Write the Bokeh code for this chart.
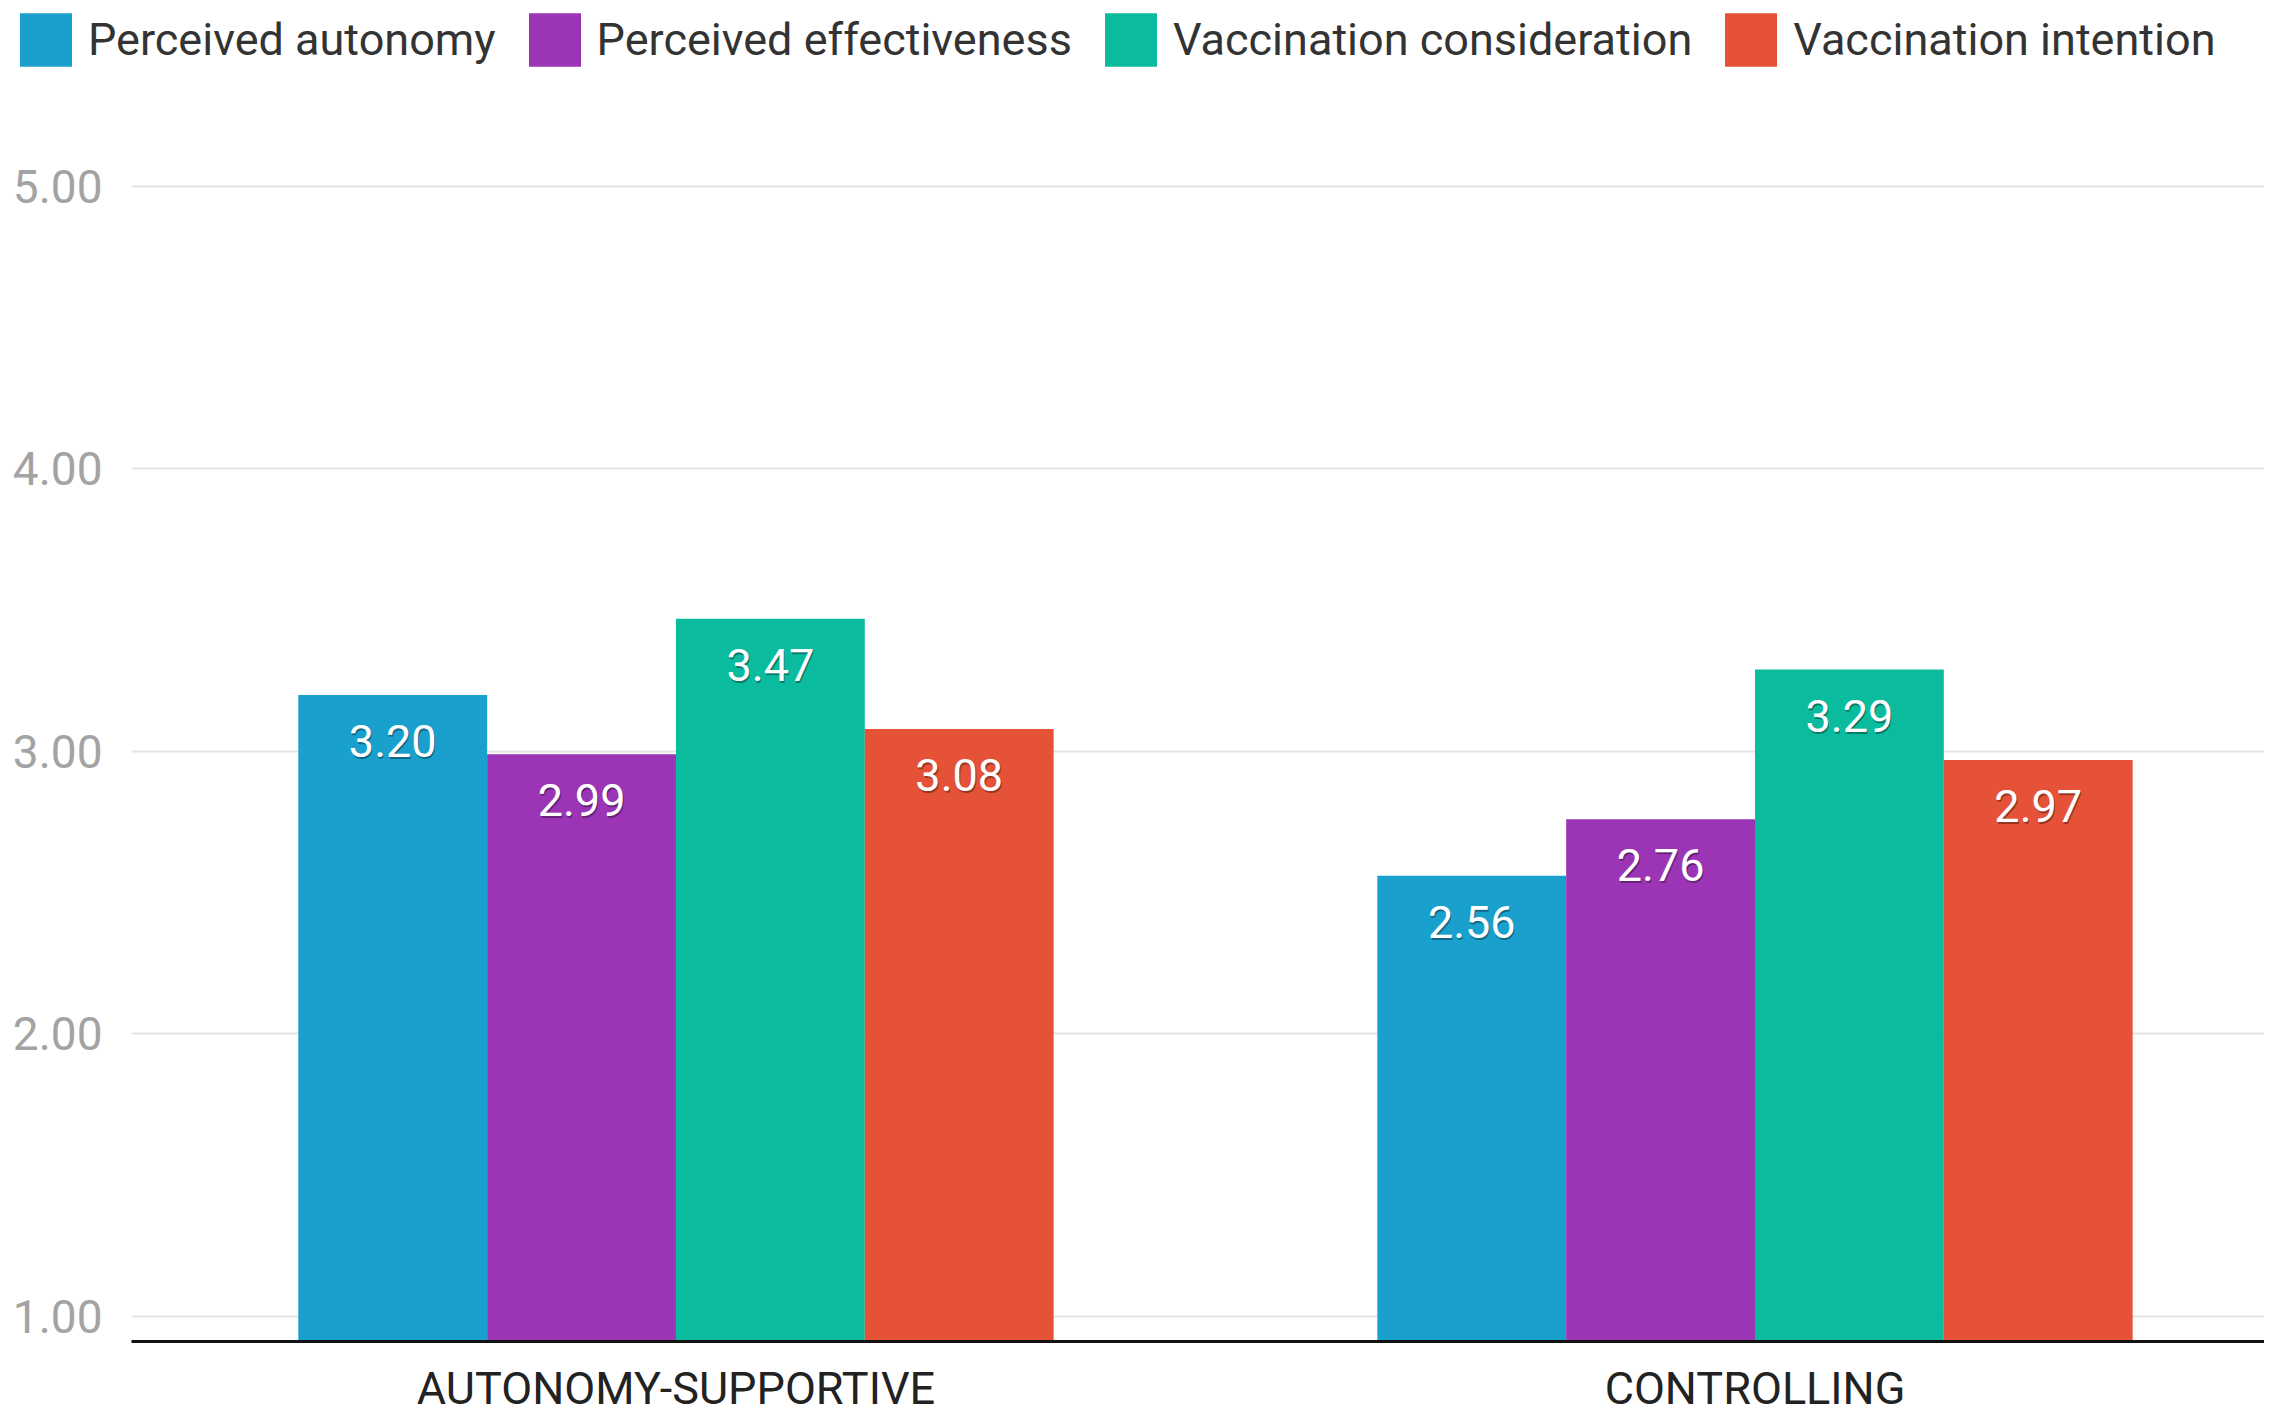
from bokeh.plotting import figure
from bokeh.layouts import column
from bokeh.models import (ColumnDataSource, FixedTicker, NumeralTickFormatter,
                          Range1d, Legend, LegendItem)
from bokeh.transform import dodge
from bokeh.core.properties import value
from bokeh.embed import file_html
from bokeh.resources import INLINE

# ---- data ----
groups = ["AUTONOMY-SUPPORTIVE", "CONTROLLING"]
series = ["Perceived autonomy", "Perceived effectiveness",
          "Vaccination consideration", "Vaccination intention"]
perceived_autonomy = [3.20, 2.56]
perceived_effectiveness = [2.99, 2.76]
vaccination_consideration = [3.47, 3.29]
vaccination_intention = [3.08, 2.97]
y_ticks = [1, 2, 3, 4, 5]

colors = ["#1aa0cc", "#9b35b5", "#0bbb9d", "#e55237"]
keys = ["pa", "pe", "vc", "vi"]
values = [perceived_autonomy, perceived_effectiveness,
          vaccination_consideration, vaccination_intention]

data = dict(idx=list(range(len(groups))))
for k, v in zip(keys, values):
    data[k] = v
    data[k + "_lbl"] = ["%.2f" % x for x in v]
src = ColumnDataSource(data)

FONT = "Roboto"
BAR_W = 0.175
offsets = [-1.5 * BAR_W, -0.5 * BAR_W, 0.5 * BAR_W, 1.5 * BAR_W]
TOTAL_W = 2264
LEG_H = 80

# ---- legend strip (own figure so it can reach the left edge) ----
lf = figure(width=TOTAL_W, height=LEG_H, x_range=Range1d(0, 1), y_range=Range1d(0, 1),
            x_axis_location=None, y_axis_location=None,
            output_backend="svg", toolbar_location=None, min_border=0)
lf.grid.visible = False
lf.outline_line_color = None
leg_items = []
for k, s, c in zip(keys, series, colors):
    r = lf.vbar(x="idx", top=k, width=BAR_W, source=src, fill_color=c, line_color=None)
    r.visible = False
    leg_items.append(LegendItem(label=s, renderers=[r]))
legend = Legend(items=leg_items, orientation="horizontal", location=(13, 7),
                glyph_width=65, glyph_height=67, label_standoff=10, spacing=26,
                padding=0, margin=0, border_line_color=None,
                background_fill_alpha=0, inactive_fill_alpha=0,
                label_text_font=FONT, label_text_font_size="45px",
                label_text_color="#333333")
lf.add_layout(legend)

# ---- main chart ----
FRAME_H = 1341 - LEG_H
p = figure(frame_width=TOTAL_W - 131, frame_height=FRAME_H,
           x_range=Range1d(-0.5046, 1.4722),
           y_range=Range1d(0.9115, 5 + (186 - LEG_H) / 282.5),
           output_backend="svg", toolbar_location=None,
           min_border_left=131, min_border_right=0,
           min_border_top=0, min_border_bottom=0)
p.outline_line_color = None
p.background_fill_color = "white"

for fig in (lf, p):
    try:
        fig.frame_align = False
    except Exception:
        pass

for k, off, c in zip(keys, offsets, colors):
    p.vbar(x=dodge("idx", off, range=p.x_range), top=k, bottom=0,
           width=BAR_W, source=src, fill_color=c, line_color=None)
    p.text(x=dodge("idx", off, range=p.x_range), y=k, text=k + "_lbl",
           source=src, text_align="center", text_baseline="middle",
           x_offset=1, y_offset=48, text_color="black", text_alpha=0.35,
           text_font=value(FONT), text_font_size="45px")
    p.text(x=dodge("idx", off, range=p.x_range), y=k, text=k + "_lbl",
           source=src, text_align="center", text_baseline="middle",
           y_offset=46, text_color="white",
           text_font=value(FONT), text_font_size="45px")

# axes
p.yaxis.ticker = FixedTicker(ticks=y_ticks)
p.yaxis.formatter = NumeralTickFormatter(format="0.00")
p.yaxis.axis_line_color = None
p.yaxis.major_tick_line_color = None
p.yaxis.minor_tick_line_color = None
p.yaxis.major_label_text_color = "#a3a3a3"
p.yaxis.major_label_text_font = FONT
p.yaxis.major_label_text_font_size = "46px"
p.yaxis.major_label_standoff = 23

p.xaxis.ticker = FixedTicker(ticks=list(range(len(groups))))
p.xaxis.major_label_overrides = {i: g for i, g in enumerate(groups)}
p.xaxis.axis_line_color = "#111111"
p.xaxis.axis_line_width = 3
p.xaxis.major_tick_line_color = None
p.xaxis.minor_tick_line_color = None
p.xaxis.major_label_text_color = "#222222"
p.xaxis.major_label_text_font = FONT
p.xaxis.major_label_text_font_size = "45px"
p.xaxis.major_label_standoff = 14

p.xgrid.visible = False
p.ygrid.ticker = FixedTicker(ticks=y_ticks)
p.ygrid.grid_line_color = "#e4e4e4"
p.ygrid.grid_line_width = 2

layout = column(lf, p, spacing=0)
open("out.html", "w").write(file_html(layout, INLINE))
